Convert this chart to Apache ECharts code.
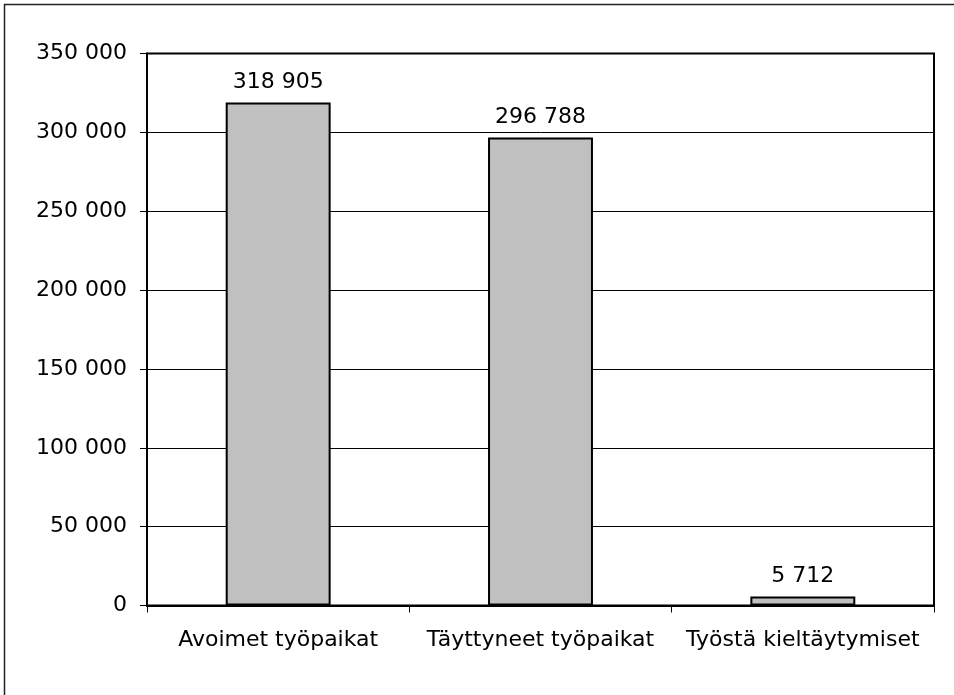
<!DOCTYPE html>
<html>
<head>
<meta charset="utf-8">
<script src="https://cdn.jsdelivr.net/npm/echarts@6/dist/echarts.min.js"></script>
<style>
html,body{margin:0;padding:0;background:#fff;}
#chart{width:954px;height:695px;}
</style>
</head>
<body>
<div id="chart"></div>
<script>
const categories = ['Avoimet työpaikat', 'Täyttyneet työpaikat', 'Työstä kieltäytymiset'];
const values = [318905, 296788, 5712];
const yTicks = [0, 50000, 100000, 150000, 200000, 250000, 300000, 350000];

const FONT = 'DejaVu Sans';
function fmt(v) {
  return String(v).replace(/\B(?=(\d{3})+(?!\d))/g, ' ');
}

const chart = echarts.init(document.getElementById('chart'), null, {renderer: 'canvas'});
chart.setOption({
  animation: false,
  backgroundColor: '#fff',
  graphic: [{
    type: 'rect',
    shape: {x: 4.5, y: 4.5, width: 1000, height: 1000},
    style: {fill: 'none', stroke: '#222', lineWidth: 1.5},
    silent: true
  }],
  grid: {
    left: 147, top: 53.5, right: 20, bottom: 89.5,
    show: true, borderColor: '#000', borderWidth: 2, backgroundColor: 'transparent'
  },
  xAxis: {
    type: 'category',
    data: categories,
    boundaryGap: true,
    axisLine: {lineStyle: {color: '#000', width: 2}},
    axisTick: {show: true, alignWithLabel: false, interval: 0, length: 7, lineStyle: {color: '#000', width: 1}},
    axisLabel: {color: '#000', fontSize: 22, fontFamily: FONT, margin: 24, interval: 0, hideOverlap: false}
  },
  yAxis: {
    type: 'value',
    min: yTicks[0],
    max: yTicks[yTicks.length - 1],
    interval: yTicks[1] - yTicks[0],
    axisLine: {show: true, lineStyle: {color: '#000', width: 2}},
    axisTick: {show: true, length: 7, lineStyle: {color: '#000', width: 1}},
    axisLabel: {color: '#000', fontSize: 22, fontFamily: FONT, margin: 20, formatter: fmt},
    splitLine: {show: true, lineStyle: {color: '#000', width: 1}}
  },
  series: [{
    type: 'bar',
    data: values,
    barWidth: '40%',
    itemStyle: {color: '#c0c0c0', borderColor: '#000', borderWidth: 2},
    label: {
      show: true, position: 'top', distance: 9,
      color: '#000', fontSize: 22, fontFamily: FONT,
      formatter: p => fmt(p.value)
    }
  }]
});
</script>
</body>
</html>
